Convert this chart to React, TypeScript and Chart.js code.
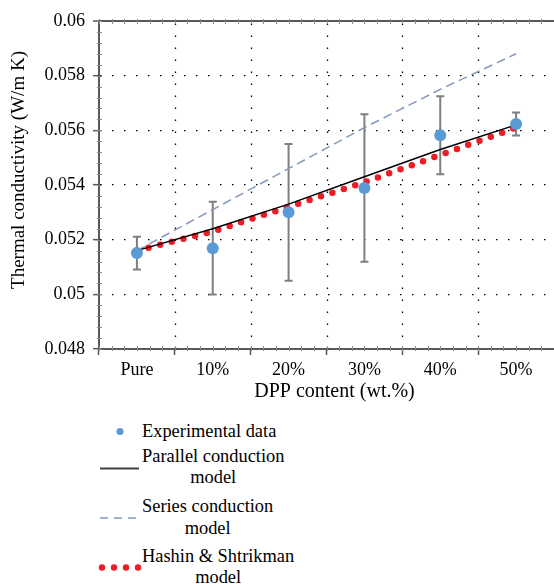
import React, { useEffect, useRef } from "react";
import { Chart, registerables } from "chart.js";

Chart.register(...registerables);

const categories = ["Pure", "10%", "20%", "30%", "40%", "50%"];
const experimental = [0.05151, 0.05169, 0.053, 0.05389, 0.05582, 0.05623];
const experimentalError = [0.0006, 0.0017, 0.0025, 0.0027, 0.00143, 0.00042];
const parallelModel = [0.0516, 0.0524, 0.0533, 0.0543, 0.0553, 0.0562];
const seriesModel = [0.0516, 0.0531, 0.0546, 0.0561, 0.0575, 0.0588];
const hashinShtrikman = [0.0516, 0.0523, 0.0532, 0.0541, 0.0551, 0.0561];
const yTickLabels = ["0.048", "0.05", "0.052", "0.054", "0.056", "0.058", "0.06"];
const yMin = 0.048;
const yMax = 0.06;
const yStep = 0.002;
const xTitle = "DPP content (wt.%)";
const yTitle = "Thermal conductivity (W/m K)";

const FONT = "'Liberation Serif', 'DejaVu Serif', 'Noto Serif', serif";
const AXIS_COLOR = "#595959";
const BLUE = "#5b9bd5";
const RED = "#ee1c25";
const SERIES_COLOR = "#8499bb";
const ERR_COLOR = "#7f7f7f";
const TRANSPARENT = "rgba(0,0,0,0)";

const errorBarsPlugin = {
  id: "errorBars",
  beforeDatasetsDraw(chart: any) {
    const { ctx, scales } = chart;
    const x = scales.x;
    const y = scales.y;
    ctx.save();
    ctx.strokeStyle = ERR_COLOR;
    ctx.lineWidth = 2;
    experimental.forEach((v, i) => {
      const px = x.getPixelForValue(i);
      const top = y.getPixelForValue(v + experimentalError[i]);
      const bot = y.getPixelForValue(v - experimentalError[i]);
      ctx.beginPath();
      ctx.moveTo(px, top);
      ctx.lineTo(px, bot);
      ctx.moveTo(px - 4, top);
      ctx.lineTo(px + 4, top);
      ctx.moveTo(px - 4, bot);
      ctx.lineTo(px + 4, bot);
      ctx.stroke();
    });
    ctx.restore();
  },
};

// dotted vertical grid lines at the category boundaries
const categoryGridPlugin = {
  id: "categoryGrid",
  beforeDatasetsDraw(chart: any) {
    const { ctx, chartArea, scales } = chart;
    const x = scales.x;
    ctx.save();
    // clear anything at the far right edge of the plot (open right side)
    ctx.fillStyle = "#ffffff";
    ctx.fillRect(chartArea.right - 3, chartArea.top + 1.5, 20, chartArea.bottom - chartArea.top - 2.5);
    ctx.strokeStyle = "#000";
    ctx.lineWidth = 1.3;
    ctx.setLineDash([1.5, 10.5]);
    ctx.beginPath();
    for (let i = 1; i < categories.length; i++) {
      const px = Math.round((x.getPixelForValue(i - 1) + x.getPixelForValue(i)) / 2) + 0.5;
      ctx.moveTo(px, chartArea.bottom);
      ctx.lineTo(px, chartArea.top);
    }
    ctx.stroke();
    ctx.restore();
  },
};

const minorTicksPlugin = {
  id: "minorTicks",
  afterDraw(chart: any) {
    const { ctx, chartArea, scales } = chart;
    const y = scales.y;
    ctx.save();
    ctx.strokeStyle = "#8a8a8a";
    ctx.lineWidth = 1;
    ctx.beginPath();
    const n = Math.round((yMax - yMin) / (yStep / 5));
    for (let k = 0; k <= n; k++) {
      const py = Math.round(y.getPixelForValue(yMin + (k * yStep) / 5)) + 0.5;
      ctx.moveTo(chartArea.left - 2, py);
      ctx.lineTo(chartArea.left + 3, py);
    }
    const catW = (chartArea.right - chartArea.left) / categories.length;
    for (let k = 0; k < categories.length * 6; k++) {
      const px = Math.round(chartArea.left + (k * catW) / 6) + 0.5;
      ctx.moveTo(px, chartArea.top - 2);
      ctx.lineTo(px, chartArea.top + 3);
      ctx.moveTo(px, chartArea.bottom - 3);
      ctx.lineTo(px, chartArea.bottom + 2);
    }
    ctx.stroke();
    ctx.restore();
  },
};

const titlesPlugin = {
  id: "axisTitles",
  afterDraw(chart: any) {
    const { ctx, chartArea } = chart;
    ctx.save();
    ctx.fillStyle = "#000";
    ctx.textAlign = "center";
    ctx.textBaseline = "middle";
    ctx.font = `20px ${FONT}`;
    ctx.fillText(xTitle, (chartArea.left + chartArea.right) / 2 + 8, chartArea.bottom + 43);
    ctx.translate(19, (chartArea.top + chartArea.bottom) / 2 - 15);
    ctx.rotate(-Math.PI / 2);
    ctx.font = `19px ${FONT}`;
    ctx.fillText(yTitle, 0, 0);
    ctx.restore();
  },
};

function ChartCanvas() {
  const ref = useRef<HTMLCanvasElement | null>(null);
  useEffect(() => {
    if (!ref.current) return;
    const chart = new Chart(ref.current, {
      type: "line",
      data: {
        labels: categories,
        datasets: [
          {
            label: "Experimental data",
            data: experimental,
            showLine: false,
            pointRadius: 6,
            pointBackgroundColor: BLUE,
            pointBorderWidth: 0,
            borderColor: BLUE,
            backgroundColor: BLUE,
          },
          {
            label: "Parallel conduction model",
            data: parallelModel,
            borderColor: "#000000",
            borderWidth: 1.5,
            pointRadius: 0,
            tension: 0,
          },
          {
            label: "Series conduction model",
            data: seriesModel,
            borderColor: SERIES_COLOR,
            borderWidth: 1.5,
            borderDash: [9, 5],
            pointRadius: 0,
            tension: 0,
          },
          {
            label: "Hashin & Shtrikman model",
            data: hashinShtrikman,
            borderColor: RED,
            borderWidth: 6.5,
            borderDash: [0, 12],
            borderCapStyle: "round",
            pointRadius: 0,
            tension: 0,
          },
        ],
      },
      options: {
        responsive: false,
        animation: false,
        layout: { padding: { left: 0, right: 5, top: 21, bottom: 0 } },
        plugins: {
          legend: { display: false },
          tooltip: { enabled: false },
        },
        scales: {
          x: {
            type: "category",
            offset: true,
            grid: {
              offset: true,
              drawOnChartArea: false,
              color: AXIS_COLOR,
              tickLength: 6,
              tickColor: (c: any) => (typeof c.index === "number" ? AXIS_COLOR : TRANSPARENT),
              tickWidth: 1.5,
            },
            border: { display: true, color: AXIS_COLOR, width: 2 },
            ticks: {
              color: "#000",
              font: { family: FONT, size: 18 },
              padding: 4,
            },
            title: { display: false },
            afterFit: (s: any) => {
              s.height = 61;
            },
          },
          y: {
            min: yMin,
            max: yMax,
            ticks: {
              stepSize: yStep,
              color: "#000",
              font: { family: FONT, size: 18 },
              padding: 8,
              callback: (_v: any, i: number) => yTickLabels[i],
            },
            grid: {
              color: (c: any) =>
                c.index === 0 ? TRANSPARENT : c.index === yTickLabels.length - 1 ? AXIS_COLOR : "#000000",
              lineWidth: (c: any) => (c.index === yTickLabels.length - 1 ? 2 : 1.3),
              tickLength: 6,
              tickColor: AXIS_COLOR,
              tickWidth: 1.5,
            },
            border: {
              display: true,
              color: AXIS_COLOR,
              width: 2,
              dash: (c: any) => (c.index === yTickLabels.length - 1 ? [] : [1.5, 10.5]),
            },
            title: { display: false },
            afterFit: (s: any) => {
              s.width = 99;
            },
          },
        },
      },
      plugins: [categoryGridPlugin, errorBarsPlugin, minorTicksPlugin, titlesPlugin],
    } as any);
    return () => chart.destroy();
  }, []);
  return <canvas ref={ref} width={560} height={410} style={{ display: "block", width: 560, height: 410 }} />;
}

const legendText: React.CSSProperties = {
  position: "absolute",
  left: 142,
  fontFamily: FONT,
  fontSize: 18.4,
  lineHeight: "21.5px",
  color: "#000",
  textAlign: "center",
  whiteSpace: "nowrap",
};

function Legend() {
  return (
    <>
      <svg style={{ position: "absolute", left: 0, top: 410 }} width={142} height={174}>
        <circle cx={120} cy={21.5} r={3.6} fill={BLUE} />
        <line x1={100} y1={58.5} x2={139} y2={58.5} stroke="#404040" strokeWidth={2} />
        <line x1={100} y1={108} x2={136} y2={108} stroke={SERIES_COLOR} strokeWidth={1.5} strokeDasharray="8,6" />
        {[102, 114, 126, 138].map((cx) => (
          <circle key={cx} cx={cx} cy={157.5} r={3.2} fill={RED} />
        ))}
      </svg>
      <div style={{ ...legendText, top: 420.5 }}>Experimental data</div>
      <div style={{ ...legendText, top: 445.5 }}>
        Parallel conduction
        <br />
        model
      </div>
      <div style={{ ...legendText, top: 496 }}>
        Series conduction
        <br />
        model
      </div>
      <div style={{ ...legendText, top: 545.5 }}>
        Hashin &amp; Shtrikman
        <br />
        model
      </div>
    </>
  );
}

export default function App() {
  return (
    <div
      style={{
        position: "absolute",
        left: 0,
        top: 0,
        width: 554,
        height: 584,
        background: "#fff",
        overflow: "hidden",
      }}
    >
      <ChartCanvas />
      <Legend />
    </div>
  );
}
